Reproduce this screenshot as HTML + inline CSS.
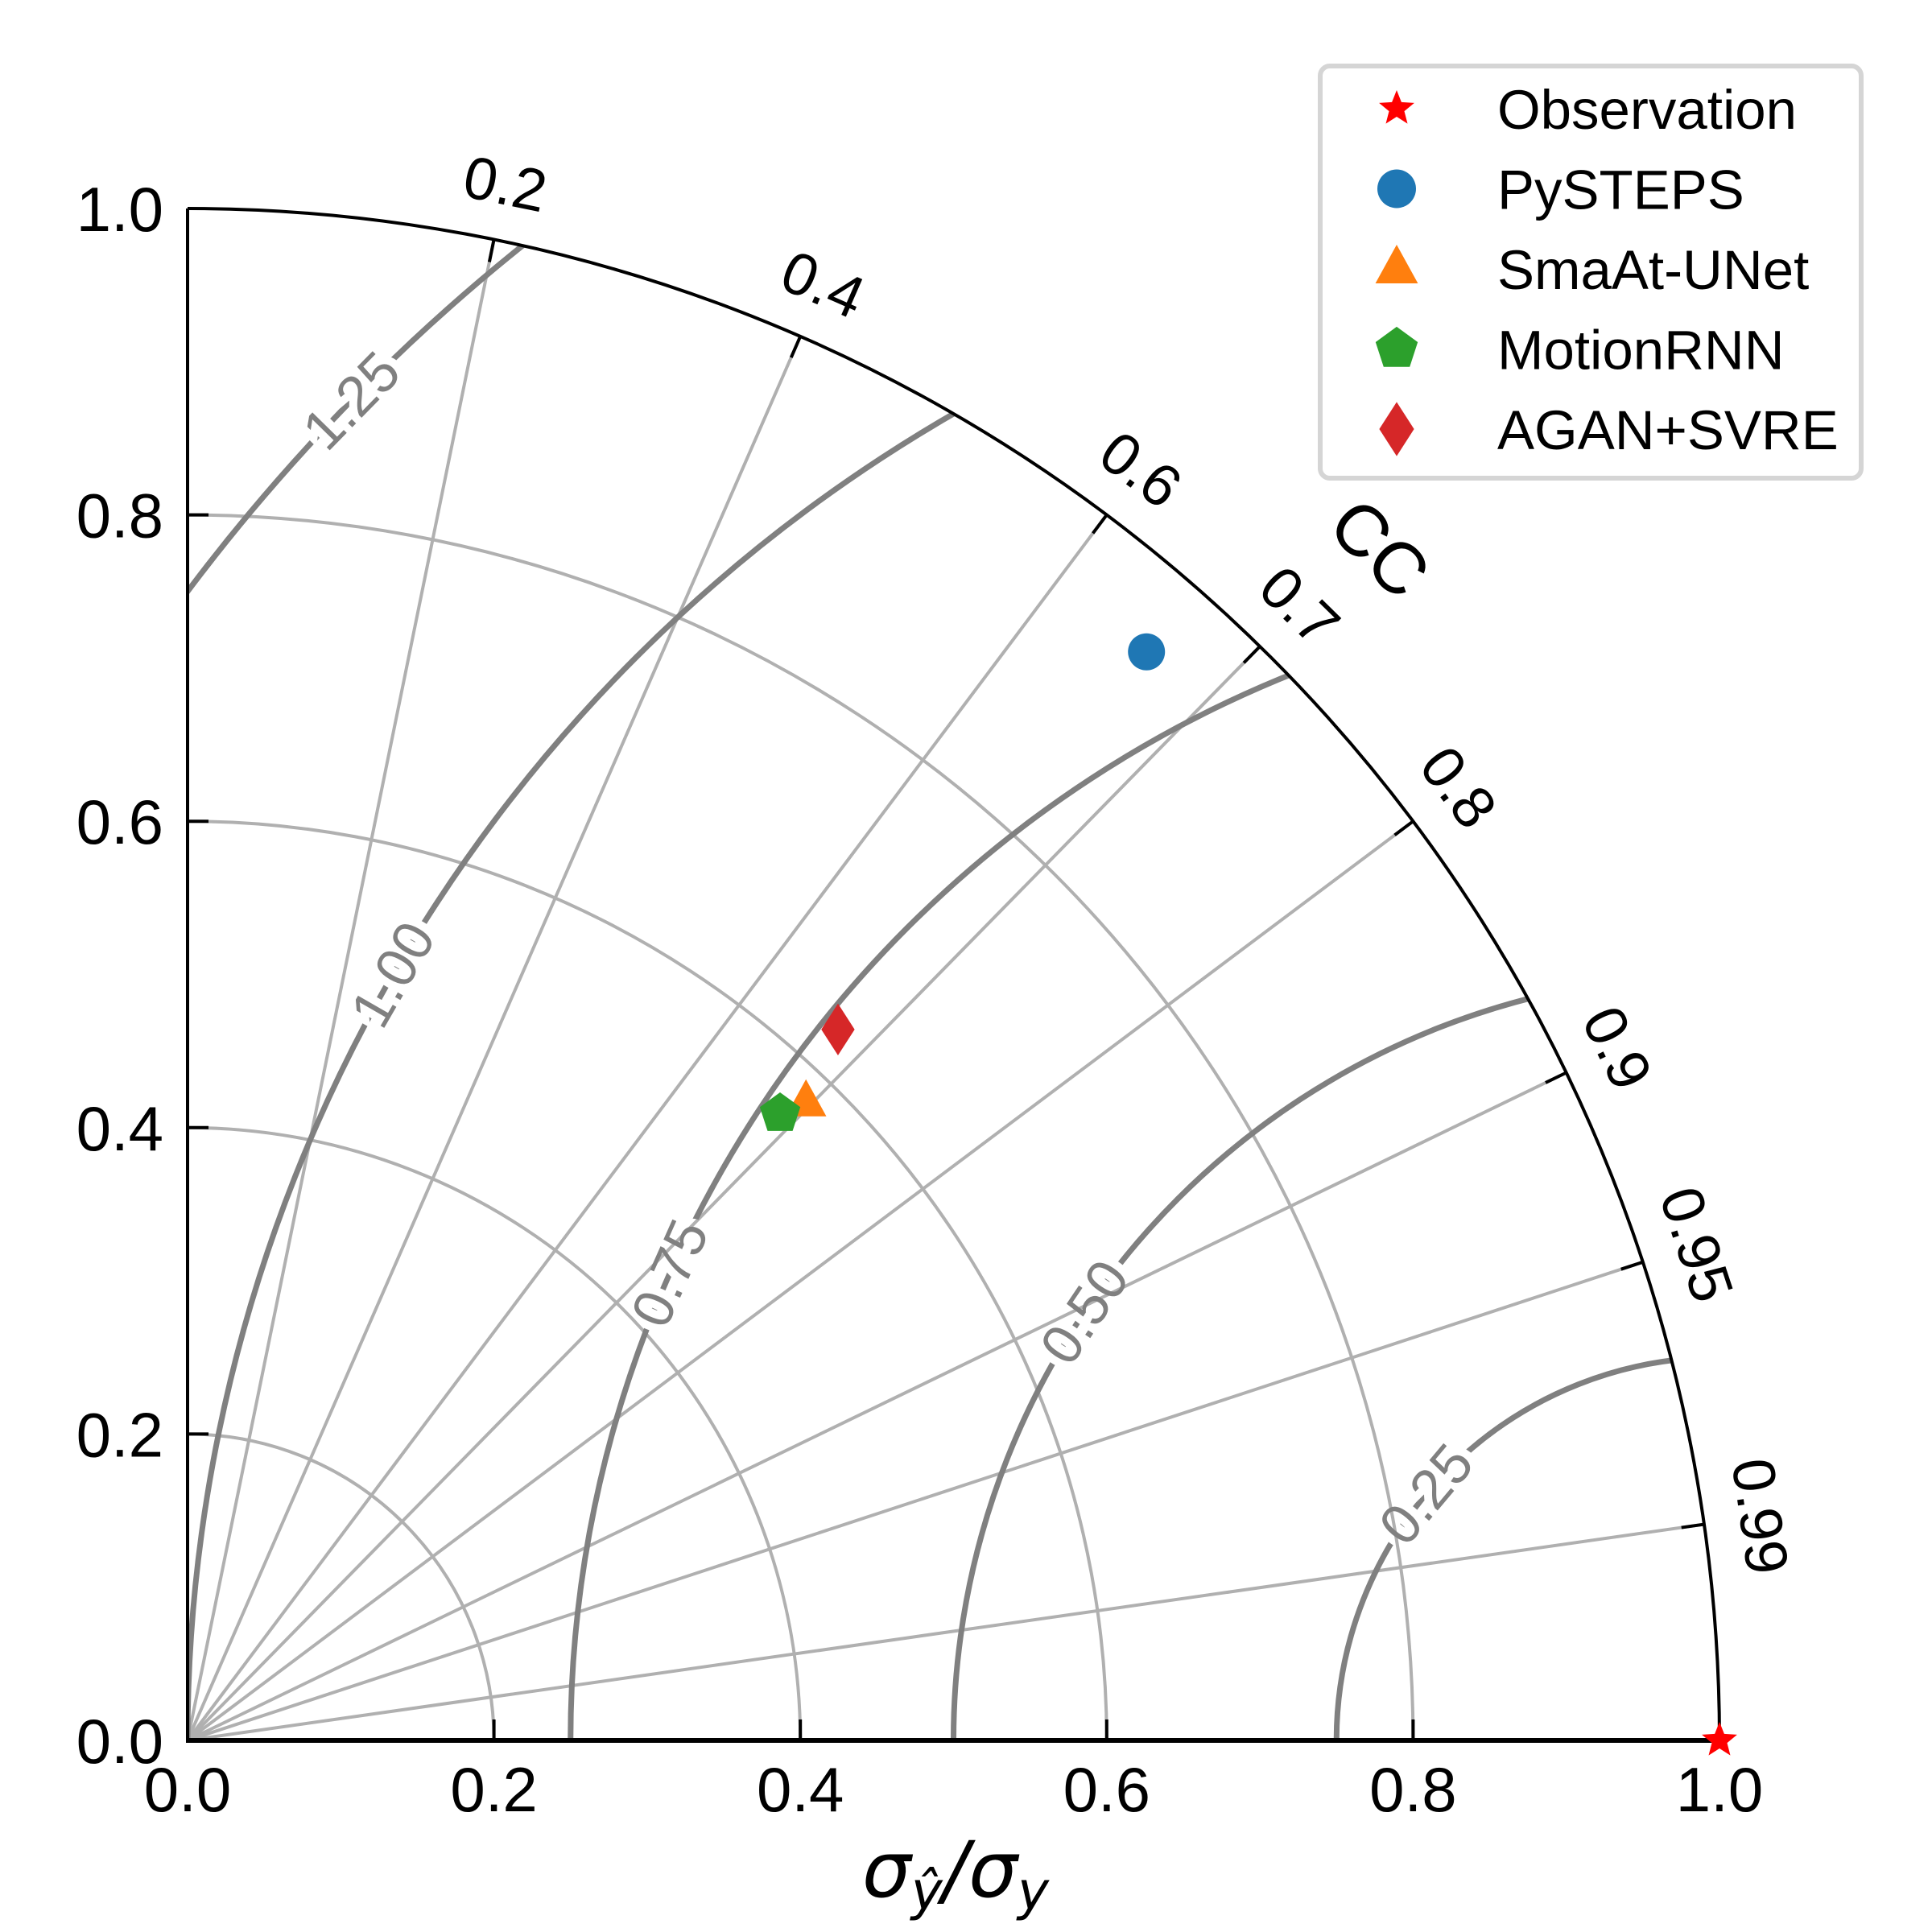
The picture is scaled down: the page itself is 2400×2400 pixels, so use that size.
<!DOCTYPE html>
<html><head><meta charset="utf-8"><style>
html,body{margin:0;padding:0;background:#fff;overflow:hidden;width:2400px;height:2400px}
svg{display:block;font-family:"Liberation Sans",sans-serif}
</style></head><body>
<svg id="chart" width="2400" height="2400" viewBox="0 0 2400 2400" xmlns="http://www.w3.org/2000/svg">
<defs>
<clipPath id="quad"><path d="M233,2162 L2136,2162 A1903,1903 0 0 0 233,259 Z"/></clipPath>
<mask id="gapMask" maskUnits="userSpaceOnUse" x="0" y="0" width="2400" height="2400"><rect x="0" y="0" width="2400" height="2400" fill="#fff"/><g id="maskLabels"></g></mask>
</defs>
<g id="grid"></g>
<g mask="url(#gapMask)"><g id="contours" clip-path="url(#quad)"></g></g>
<g id="contourLabels"></g>
<g id="axes"></g>
<g id="marks"></g>
<g id="legend"></g>
<text x="1187" y="2356" text-anchor="middle" font-size="96" font-family="DejaVu Sans, sans-serif" font-style="italic">σ<tspan font-size="66" dy="16">ŷ</tspan><tspan dy="-16">/σ</tspan><tspan font-size="66" dy="16">y</tspan></text>
</svg>
<script>
const models = ["Observation","PySTEPS","SmaAt-UNet","MotionRNN","AGAN+SVRE"];
const stdValues = [1.0, 0.947, 0.580, 0.563, 0.629];
const ccValues = [1.0, 0.661, 0.696, 0.687, 0.675];
const colors = ["#ff0000","#1f77b4","#ff7f0e","#2ca02c","#d62728"];
const shapes = ["star","circle","triangle","pentagon","diamond"];
const stdTicks = [0.2,0.4,0.6,0.8];
const stdTickLabels = ["0.0","0.2","0.4","0.6","0.8","1.0"];
const ccTicks = [0.2,0.4,0.6,0.7,0.8,0.9,0.95,0.99];
const ccTickLabels = ["0.2","0.4","0.6","0.7","0.8","0.9","0.95","0.99"];
const rmsLevels = [0.25,0.5,0.75,1.0,1.25];
const rmsLabels = ["0.25","0.50","0.75","1.00","1.25"];
const rmsLabelAngles = [140,146,156,150,135.6];

const NS="http://www.w3.org/2000/svg";
const OX=233, OY=2162, R=1903;
const sx=v=>OX+v*R, sy=v=>OY-v*R;
function mk(tag,attrs,parent){const e=document.createElementNS(NS,tag);for(const k in attrs)e.setAttribute(k,attrs[k]);parent.appendChild(e);return e;}
const grid=document.getElementById('grid'), cont=document.getElementById('contours'),
 cl=document.getElementById('contourLabels'), axes=document.getElementById('axes'),
 marks=document.getElementById('marks'), leg=document.getElementById('legend'),
 ml=document.getElementById('maskLabels');

stdTicks.forEach(s=>{
  const e=mk('path',{d:`M${sx(s)},${OY} A${s*R},${s*R} 0 0 0 ${OX},${sy(s)}`,fill:'none',stroke:'#b0b0b0','stroke-width':4},grid);
  
  
});
ccTicks.forEach((c,i)=>{
  const t=Math.acos(c);
  const e=mk('line',{x1:OX,y1:OY,x2:sx(Math.cos(t)),y2:sy(Math.sin(t)),stroke:'#b0b0b0','stroke-width':4},grid);
  
  
  const tk=mk('line',{x1:sx(0.985*Math.cos(t)),y1:sy(0.985*Math.sin(t)),x2:sx(Math.cos(t)),y2:sy(Math.sin(t)),stroke:'#000','stroke-width':4},axes);
  
  
  const lx=sx(1.037*Math.cos(t)), ly=sy(1.037*Math.sin(t));
  const deg=90-t*180/Math.PI;
  const tx=mk('text',{x:lx,y:ly,'font-size':74,'text-anchor':'middle','dominant-baseline':'central',transform:`rotate(${deg} ${lx} ${ly})`},axes);
  tx.textContent=ccTickLabels[i];
  
  
});
rmsLevels.forEach((r,i)=>{
  const e=mk('circle',{cx:sx(1),cy:OY,r:r*R,fill:'none',stroke:'#808080','stroke-width':7},cont);
  
  
  const p=rmsLabelAngles[i]*Math.PI/180;
  const lx=sx(1+r*Math.cos(p)), ly=sy(r*Math.sin(p));
  const tf=`rotate(${-(rmsLabelAngles[i]-90)} ${lx} ${ly})`;
  mk('text',{x:lx,y:ly,'font-size':70,fill:'#000','text-anchor':'middle','dominant-baseline':'central',stroke:'#000','stroke-width':20,transform:tf},ml).textContent=rmsLabels[i];
  const tx=mk('text',{x:lx,y:ly,'font-size':70,fill:'#808080','text-anchor':'middle','dominant-baseline':'central',transform:tf},cl);
  tx.textContent=rmsLabels[i];
  
  
});
let a=mk('path',{d:`M${sx(1)},${OY} A${R},${R} 0 0 0 ${OX},${sy(1)}`,fill:'none',stroke:'#000','stroke-width':4},axes);

a=mk('line',{x1:OX,y1:sy(1),x2:OX,y2:OY,stroke:'#000','stroke-width':4},axes);

a=mk('line',{x1:OX-2,y1:OY,x2:sx(1),y2:OY,stroke:'#000','stroke-width':6},axes);

[0,0.2,0.4,0.6,0.8,1.0].forEach((v,i)=>{
  if(v>0&&v<1){
    let t=mk('line',{x1:sx(v),y1:OY,x2:sx(v),y2:OY-26,stroke:'#000','stroke-width':4},axes);
    
    t=mk('line',{x1:OX,y1:sy(v),x2:OX+26,y2:sy(v),stroke:'#000','stroke-width':4},axes);
    
  }
  let l=mk('text',{x:sx(v),y:OY+88,'font-size':78,'text-anchor':'middle'},axes);
  l.textContent=stdTickLabels[i];
  
  l=mk('text',{x:OX-30,y:sy(v)+28,'font-size':78,'text-anchor':'end'},axes);
  l.textContent=stdTickLabels[i];
  
});
let cc=mk('text',{x:0,y:0,'font-size':90,'text-anchor':'middle','dominant-baseline':'central'},axes);
cc.textContent='CC';
const cx0=sx(1.1*Math.SQRT1_2), cy0=sy(1.1*Math.SQRT1_2);
cc.setAttribute('transform',`translate(${cx0} ${cy0}) rotate(45)`);


function shape(kind,x,y,s,color,parent){
  let d;
  if(kind==='circle') return mk('circle',{cx:x,cy:y,r:s,fill:color},parent);
  if(kind==='triangle') d=`M${x},${y-s*1.25} L${x+s*1.1},${y+s*0.75} L${x-s*1.1},${y+s*0.75}Z`;
  if(kind==='diamond') d=`M${x},${y-s*1.4} L${x+s*0.9},${y} L${x},${y+s*1.4} L${x-s*0.9},${y}Z`;
  if(kind==='pentagon'||kind==='star'){
    const pts=[];const n=kind==='star'?10:5;
    for(let k=0;k<n;k++){const ang=-Math.PI/2+k*2*Math.PI/n;const rr=(kind==='star'&&k%2)?s*0.5:s*1.15;pts.push((x+rr*Math.cos(ang)).toFixed(1)+','+(y+rr*Math.sin(ang)).toFixed(1));}
    d='M'+pts.join(' L')+'Z';
  }
  return mk('path',{d:d,fill:color},parent);
}
models.forEach((m,i)=>{
  const t=Math.acos(ccValues[i]);
  const x=sx(stdValues[i]*Math.cos(t)), y=sy(stdValues[i]*Math.sin(t));
  const e=shape(shapes[i],x,y,shapes[i]==='star'?20:23,colors[i],marks);
  
  
  const ly=135+i*99.5;
  const le=shape(shapes[i],1735,ly,shapes[i]==='star'?20:24,colors[i],leg);
  
  
  const lt=mk('text',{x:1860,y:ly+25,'font-size':69},leg);
  lt.textContent=m;
  
  
});
const box=mk('rect',{x:1640,y:82,width:672,height:512,rx:12,fill:'none',stroke:'#d5d5d5','stroke-width':6},leg);


</script>
</body></html>
